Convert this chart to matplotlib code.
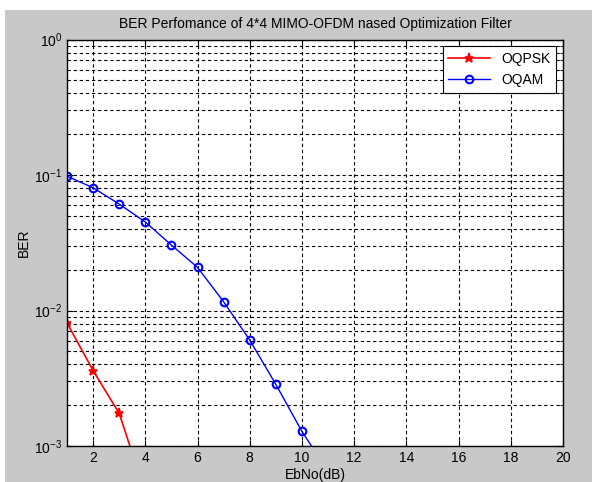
import matplotlib
matplotlib.use("Agg")
import matplotlib.pyplot as plt
from matplotlib.patches import Rectangle
from matplotlib.ticker import LogLocator, FixedLocator, NullFormatter

plt.rcParams['font.family'] = ['Liberation Sans', 'DejaVu Sans']

# data
ebno_qpsk = [1, 2, 3, 4]
ber_qpsk = [0.0081, 0.0036, 0.00174, 0.00045]
ebno_qam = [1, 2, 3, 4, 5, 6, 7, 8, 9, 10, 11]
ber_qam = [0.098, 0.0805, 0.061, 0.045, 0.0304, 0.0208, 0.0116, 0.00605, 0.00285, 0.00128, 0.00065]
xticks = [2, 4, 6, 8, 10, 12, 14, 16, 18, 20]
title = "BER Perfomance of 4*4 MIMO-OFDM nased Optimization Filter"

W, H = 592, 482
fig = plt.figure(figsize=(W / 100, H / 100), dpi=100, facecolor='white')
gray = '#c8c8c8'
fig.patches.append(Rectangle((5 / W, 0), 1 - 5 / W, 1 - 10 / H, transform=fig.transFigure,
                             facecolor=gray, edgecolor='none', zorder=-10))

left, right, top, bottom = 67, 563, 39.5, 446
ax = fig.add_axes([left / W, 1 - bottom / H, (right - left) / W, (bottom - top) / H])
ax.set_facecolor('white')

ax.semilogy(ebno_qpsk, ber_qpsk, color='red', lw=1.2, marker='*', ms=6.5, mew=1.2, label='OQPSK')
ax.semilogy(ebno_qam, ber_qam, color='blue', lw=1.0, marker='o', ms=5.5, mfc='none', mew=1.5, label='OQAM')

ax.set_xlim(1, 20)
ax.set_ylim(1e-3, 1)
ax.xaxis.set_major_locator(FixedLocator(xticks))
ax.yaxis.set_major_locator(LogLocator(base=10, numticks=10))
ax.yaxis.set_minor_locator(LogLocator(base=10, subs=range(2, 10), numticks=20))
ax.yaxis.set_minor_formatter(NullFormatter())

gl = dict(color='black', linestyle=(0, (3, 2.5)), linewidth=0.8)
ax.grid(True, which='major', axis='both', **gl)
ax.grid(True, which='minor', axis='y', **gl)
ax.set_axisbelow(True)

ax.tick_params(which='both', direction='in', top=True, right=True, labelsize=10, colors='black')
ax.tick_params(which='major', length=4)
ax.tick_params(which='minor', length=2)
for s in ax.spines.values():
    s.set_linewidth(1.0)

ax.set_title(title, fontsize=10, pad=8)
ax.set_xlabel('EbNo(dB)', fontsize=10, labelpad=2)
ax.set_ylabel('BER', fontsize=10, labelpad=2)

leg = ax.legend(loc='upper right', fontsize=10, fancybox=False, edgecolor='black',
                framealpha=1, borderaxespad=0.5, handlelength=3)
leg.get_frame().set_linewidth(0.8)

fig.savefig('out.png', dpi=100, facecolor=fig.get_facecolor())
